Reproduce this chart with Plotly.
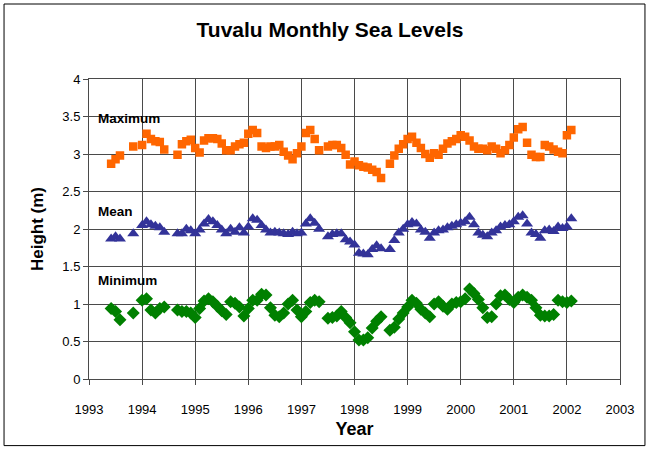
import pandas as pd
import plotly.graph_objects as go

# Monthly sea level heights (m), Funafuti, June 1993 - February 2002 (None = no record)
start_month = "1993-06-01"

maximum = [
    2.87, 2.93, 2.98, None, None, 3.10, None,                               # 1993 Jun-Dec
    3.12, 3.27, 3.20, 3.17, 3.16, 3.06, None, None, 2.99, 3.13, 3.17, 3.19,  # 1994
    3.08, 3.02, 3.18, 3.21, 3.21, 3.20, 3.14, 3.05, 3.05, 3.10, 3.13, 3.15,  # 1995
    3.27, 3.32, 3.28, 3.10, 3.08, 3.10, 3.10, 3.12, 3.03, 2.98, 2.93, 3.01,  # 1996
    3.10, 3.28, 3.32, 3.20, 3.05, None, 3.10, 3.12, 3.12, 3.08, 2.99, 2.86,  # 1997
    2.90, 2.85, 2.83, 2.82, 2.79, 2.76, 2.68, None, 2.87, 2.98, 3.07, 3.13,  # 1998
    3.20, 3.23, 3.15, 3.08, 3.00, 2.95, 3.01, 2.99, 3.07, 3.14, 3.17, 3.20,  # 1999
    3.25, 3.23, 3.18, 3.10, 3.07, 3.07, 3.05, 3.10, 3.07, 3.01, 3.05, 3.12,  # 2000
    3.22, 3.33, 3.36, 3.15, 2.99, 2.96, 2.96, 3.12, 3.10, 3.06, 3.03, 3.01,  # 2001
    3.25, 3.32,                                                             # 2002 Jan-Feb
]

mean = [
    1.87, 1.90, 1.87, None, None, 1.94, None,
    2.05, 2.10, 2.06, 2.04, 2.02, 1.96, None, None, 1.94, 1.94, 2.00, 1.98,
    1.94, 1.99, 2.07, 2.13, 2.10, 2.05, 1.99, 1.94, 2.00, 1.96, 2.02, 1.95,
    2.03, 2.14, 2.12, 2.05, 1.99, 1.95, 1.96, 1.95, 1.94, 1.93, 1.96, 1.94,
    1.95, 2.07, 2.14, 2.08, 2.00, None, 1.90, 1.93, 1.94, 1.94, 1.86, 1.83,
    1.79, 1.68, 1.67, 1.66, 1.73, 1.78, 1.74, None, 1.73, 1.85, 1.95, 2.00,
    2.06, 2.09, 2.07, 1.99, 1.96, 1.88, 1.95, 1.98, 1.99, 2.02, 2.04, 2.06,
    2.08, 2.10, 2.16, 2.06, 1.95, 1.92, 1.90, 1.95, 1.98, 2.03, 2.05, 2.06,
    2.10, 2.16, 2.18, 2.07, 1.95, 1.93, 1.88, 1.98, 1.99, 1.97, 2.03, 2.01,
    2.03, 2.14,
]

minimum = [
    0.94, 0.90, 0.79, None, None, 0.88, None,
    1.05, 1.07, 0.92, 0.88, 0.94, 0.96, None, None, 0.92, 0.90, 0.90, 0.88,
    0.82, 0.94, 1.04, 1.07, 1.03, 0.97, 0.91, 0.86, 1.03, 1.01, 0.96, 0.84,
    0.94, 1.05, 1.05, 1.13, 1.12, 0.95, 0.85, 0.83, 0.88, 1.00, 1.05, 0.92,
    0.83, 0.90, 1.02, 1.05, 1.03, None, 0.81, 0.82, 0.84, 0.90, 0.82, 0.75,
    0.63, 0.52, 0.52, 0.55, 0.68, 0.77, 0.83, None, 0.65, 0.69, 0.80, 0.88,
    0.96, 1.05, 1.01, 0.93, 0.88, 0.83, 1.00, 1.03, 0.97, 0.93, 1.00, 1.02,
    1.03, 1.07, 1.20, 1.14, 1.06, 0.95, 0.82, 0.83, 1.00, 1.11, 1.12, 1.06,
    1.02, 1.09, 1.12, 1.09, 1.05, 0.95, 0.85, 0.84, 0.84, 0.86, 1.05, 1.03,
    1.02, 1.04,
]

y_ticks = [0, 0.5, 1, 1.5, 2, 2.5, 3, 3.5, 4]
y_tick_text = ["0", "0.5", "1", "1.5", "2", "2.5", "3", "3.5", "4"]
x_ticks = list(range(1993, 2004))

series_labels = [("Maximum", 3.47), ("Mean", 2.24), ("Minimum", 1.31)]

dates = pd.date_range(start_month, periods=len(maximum), freq="MS")
years = [d.year + (d.month - 1) / 12 for d in dates]

FONT = "Arial, Liberation Sans, sans-serif"
GRID = "#4a4a4a"

fig = go.Figure()
fig.add_trace(go.Scatter(
    x=years, y=maximum, mode="markers", name="Maximum",
    marker=dict(symbol="square", size=8.5, color="#FF6600"),
))
fig.add_trace(go.Scatter(
    x=years, y=mean, mode="markers", name="Mean",
    marker=dict(symbol="triangle-up", size=10.5, color="#333399"),
))
fig.add_trace(go.Scatter(
    x=years, y=minimum, mode="markers", name="Minimum",
    marker=dict(symbol="diamond", size=10, color="#008000"),
))

for text, yv in series_labels:
    fig.add_annotation(
        x=1993.14, y=yv, text=f"<b>{text}</b>", showarrow=False,
        xanchor="left", yanchor="middle",
        font=dict(family=FONT, size=13.5, color="black"),
    )

# outer chart frame
fig.add_shape(
    type="rect", xref="paper", yref="paper",
    x0=-0.160, x1=1.047, y0=-0.222, y1=1.25,
    line=dict(color="black", width=1), layer="below",
)

fig.update_layout(
    width=658, height=453,
    margin=dict(l=89, r=38, t=79, b=74),
    paper_bgcolor="white", plot_bgcolor="white",
    showlegend=False,
    title=dict(
        text="<b>Tuvalu Monthly Sea Levels</b>",
        x=330 / 658, xref="container", xanchor="center",
        y=1 - 30 / 453, yref="container", yanchor="middle",
        font=dict(family=FONT, size=21, color="black"),
    ),
    font=dict(family=FONT, size=12, color="black"),
)

fig.update_xaxes(
    range=[1993, 2003], tickvals=x_ticks, ticktext=[str(v) for v in x_ticks],
    showgrid=True, gridcolor=GRID, gridwidth=1,
    showline=True, linecolor=GRID, linewidth=1, mirror=True,
    ticks="outside", ticklen=5, tickcolor=GRID, zeroline=False,
    ticklabelstandoff=13,
    tickfont=dict(family=FONT, size=13, color="black"),
    title=dict(text="<b>Year</b>", font=dict(family=FONT, size=18, color="black"), standoff=6),
)
fig.update_yaxes(
    range=[0, 4], tickvals=y_ticks, ticktext=y_tick_text,
    showgrid=True, gridcolor=GRID, gridwidth=1,
    showline=True, linecolor=GRID, linewidth=1, mirror=True,
    ticks="outside", ticklen=5, tickcolor=GRID, zeroline=False,
    tickfont=dict(family=FONT, size=13, color="black"),
    title=dict(text="<b>Height (m)</b>", font=dict(family=FONT, size=17, color="black"), standoff=14),
)

fig.write_html("out.html")
